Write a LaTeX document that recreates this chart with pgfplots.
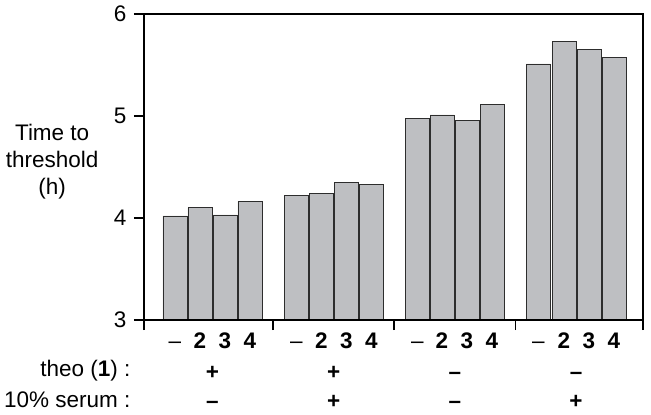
\documentclass[border=0pt]{standalone}
\usepackage{pgfplots}
\pgfplotsset{compat=1.18}
\usepackage{fontspec}
\setmainfont{Liberation Sans}
\definecolor{barfill}{RGB}{190,191,194}
\definecolor{bardraw}{RGB}{45,45,45}
\begin{document}
\fontsize{22.5bp}{27bp}\selectfont
\begin{tikzpicture}
\path[use as bounding box] (-144bp,-95bp) rectangle (507bp,320bp);
\begin{axis}[
  scale only axis, width=499bp, height=306bp,
  xmin=0, xmax=499, ymin=3, ymax=6,
  ytick={3,4,5,6},
  ytick pos=left, xtick pos=bottom,
  tick align=outside,
  major tick length=10bp,
  minor tick length=10bp,
  /pgf/number format/assume math mode=true,
  axis line style={line width=1.6bp, black},
  tick style={line width=1.6bp, black},
  xtick={31,56,81,106,152.3,177.3,202.3,227.3,273.3,298,323,348,394.3,420,445,470},
  xticklabels={–,\textbf{2},\textbf{3},\textbf{4},–,\textbf{2},\textbf{3},\textbf{4},–,\textbf{2},\textbf{3},\textbf{4},–,\textbf{2},\textbf{3},\textbf{4}},
  xticklabel style={text height=0.72em, text depth=0pt, inner sep=2bp},
  major x tick style={draw=none},
  minor xtick={0,128.7,250,371.3,499},
  ylabel={Time to\\threshold\\(h)},
  ylabel style={rotate=-90, align=center, anchor=center, at={(axis description cs:-0.184,0.516)}},
]
\addplot[ybar, bar width=24bp, bar shift=0pt, fill=barfill, draw=bardraw, line width=0.8bp] coordinates {
  (31,4.02) (56,4.10) (81,4.03) (106,4.16)
  (152.3,4.22) (177.3,4.24) (202.3,4.35) (227.3,4.33)
  (273.3,4.98) (298,5.01) (323,4.96) (348,5.11)
  (394.3,5.51) (420,5.73) (445,5.65) (470,5.57)
};
\draw[line width=1.6bp, black] (rel axis cs:0,0) rectangle (rel axis cs:1,1);
\coordinate (g1) at (axis cs:68.5,3);
\coordinate (g2) at (axis cs:189.8,3);
\coordinate (g3) at (axis cs:311,3);
\coordinate (g4) at (axis cs:432,3);
\end{axis}
\tikzset{sign/.style={text height=0.72em, text depth=0pt, inner sep=0pt, anchor=center}}
\node[anchor=east] at (-6bp,-51bp) {theo (\textbf{1}) :};
\node[anchor=east] at (-6bp,-80bp) {10\% serum :};
\node[sign] at ([yshift=-51bp]g1) {\textbf{+}};
\node[sign] at ([yshift=-51bp]g2) {\textbf{+}};
\node[sign] at ([yshift=-51bp]g3) {\textbf{–}};
\node[sign] at ([yshift=-51bp]g4) {\textbf{–}};
\node[sign] at ([yshift=-80bp]g1) {\textbf{–}};
\node[sign] at ([yshift=-80bp]g2) {\textbf{+}};
\node[sign] at ([yshift=-80bp]g3) {\textbf{–}};
\node[sign] at ([yshift=-80bp]g4) {\textbf{+}};
\end{tikzpicture}
\end{document}
